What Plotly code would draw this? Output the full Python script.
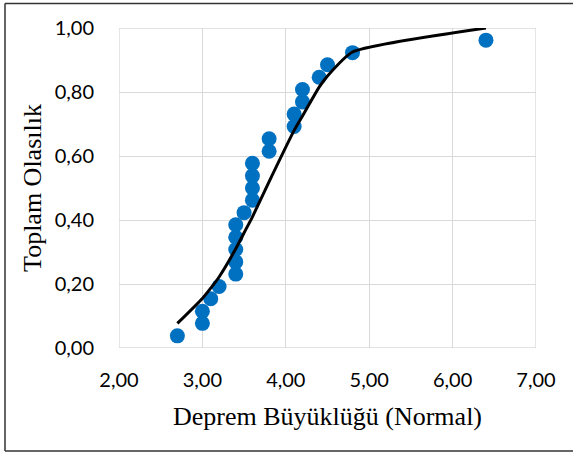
import plotly.graph_objects as go

# Observed magnitudes (sorted) and cumulative probabilities
magnitudes = [2.7, 3.0, 3.0, 3.1, 3.2, 3.4, 3.4, 3.4, 3.4, 3.4, 3.5, 3.6, 3.6, 3.6, 3.6,
              3.8, 3.8, 4.1, 4.1, 4.2, 4.2, 4.4, 4.5, 4.8, 6.4]
cum_prob = [0.038, 0.077, 0.115, 0.154, 0.192, 0.231, 0.269, 0.308, 0.346, 0.385, 0.423,
            0.462, 0.500, 0.538, 0.577, 0.615, 0.654, 0.692, 0.731, 0.769, 0.808, 0.846,
            0.885, 0.923, 0.962]

# Fitted normal curve
curve_x = [2.7, 3.0, 3.1, 3.2, 3.4, 3.5, 3.6, 3.8, 4.1, 4.2, 4.4, 4.5, 4.8, 6.4]
curve_y = [0.077, 0.155, 0.187, 0.222, 0.31, 0.36, 0.41, 0.52, 0.68, 0.725, 0.815, 0.85, 0.925, 1.00]

x_ticks = [2, 3, 4, 5, 6, 7]
y_ticks = [0, 0.2, 0.4, 0.6, 0.8, 1.0]

x_title = "Deprem Büyüklüğü (Normal)"
y_title = "Toplam Olasılık"

fig = go.Figure()
fig.add_trace(go.Scatter(x=magnitudes, y=cum_prob, mode="markers",
                         marker=dict(color="#0070C0", size=15), showlegend=False,
                         cliponaxis=False))
fig.add_trace(go.Scatter(x=curve_x, y=curve_y, mode="lines",
                         line=dict(color="black", width=3, shape="spline", smoothing=0.5),
                         showlegend=False, cliponaxis=False))

frame = dict(color="#333333", width=1.5)
fig.update_layout(
    width=573, height=454,
    margin=dict(l=119, r=37, t=28, b=106),
    paper_bgcolor="white", plot_bgcolor="white",
    separators=",.",
    font=dict(family="Lato", size=20, color="black"),
    shapes=[
        dict(type="line", xref="paper", yref="paper", x0=-0.2734, x1=-0.2734,
             y0=-0.322, y1=1.0766, line=frame, layer="below"),
        dict(type="line", xref="paper", yref="paper", x0=-0.2734, x1=1.2,
             y0=1.0766, y1=1.0766, line=frame, layer="below"),
        dict(type="line", xref="paper", yref="paper", x0=-0.2734, x1=1.2,
             y0=-0.322, y1=-0.322, line=frame, layer="below"),
    ],
)
fig.update_xaxes(range=[2, 7], tickvals=x_ticks, tickformat=".2f",
                 showgrid=True, gridcolor="#D9D9D9", gridwidth=1.3,
                 zeroline=False, showline=False, ticks="",
                 ticklabelstandoff=18,
                 title=dict(text=x_title, font=dict(family="Liberation Serif", size=26),
                            standoff=16))
fig.update_yaxes(range=[0, 1], tickvals=y_ticks, tickformat=".2f",
                 showgrid=True, gridcolor="#D9D9D9", gridwidth=1.3,
                 zeroline=False, showline=False, ticks="",
                 ticklabelstandoff=24,
                 title=dict(text=y_title, font=dict(family="Liberation Serif", size=26),
                            standoff=5))
# right and top grid borders of plot area
fig.add_shape(type="rect", xref="x", yref="y", x0=2, x1=7, y0=0, y1=1,
              line=dict(color="#D9D9D9", width=1.3), layer="below")

fig.write_html("out.html", config={"displayModeBar": False},
               post_script="document.body.style.margin='0px';")
